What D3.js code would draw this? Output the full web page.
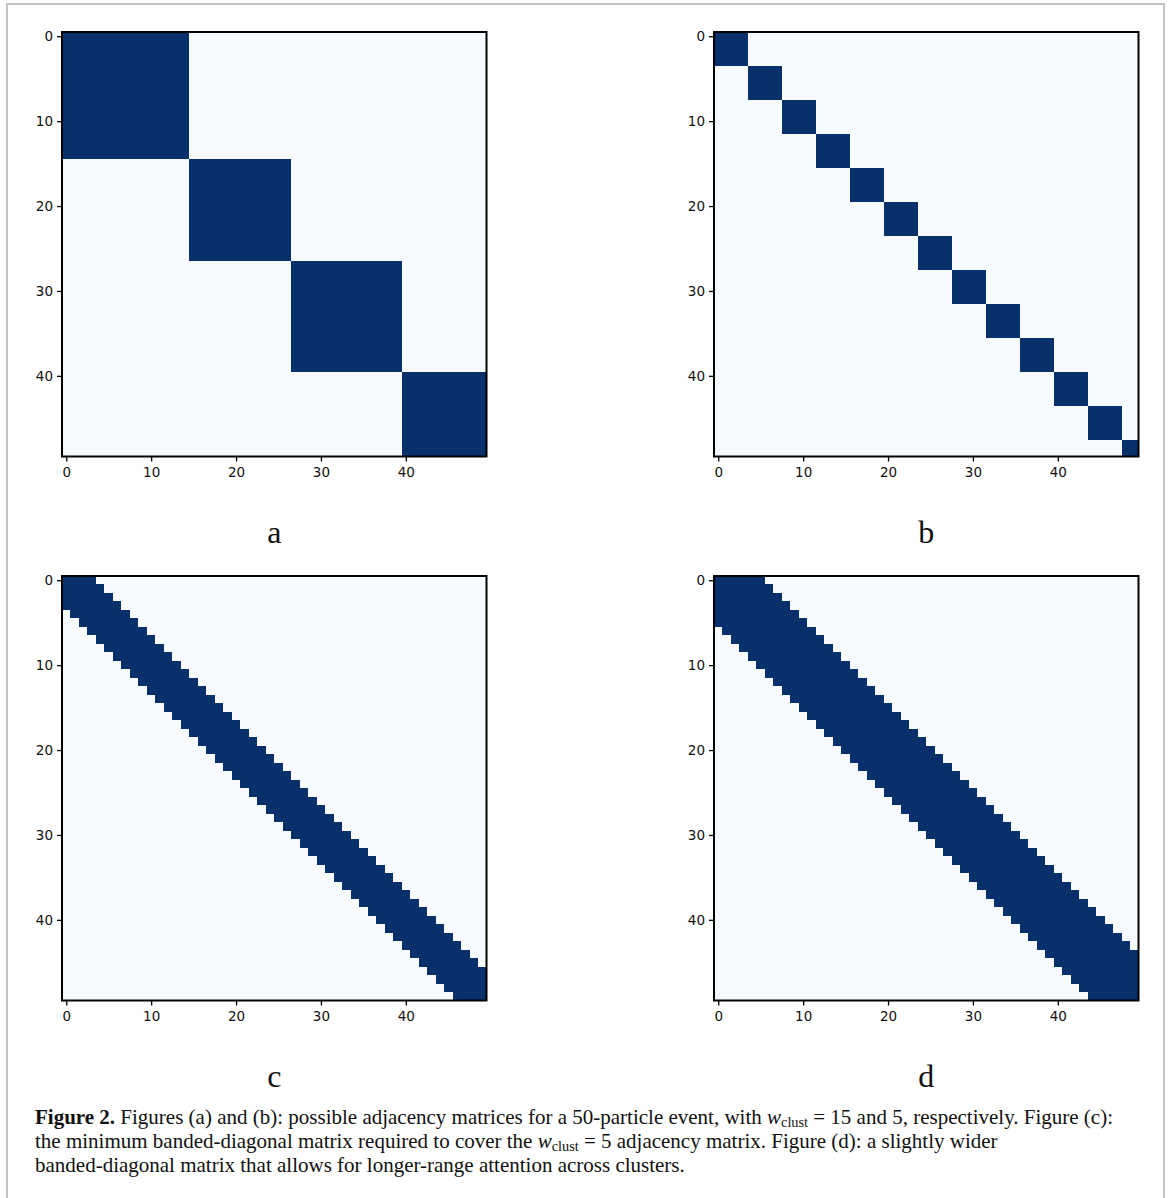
<!DOCTYPE html>
<html>
<head>
<meta charset="utf-8">
<script src="https://cdn.jsdelivr.net/npm/d3@7"></script>
<style>
  body { margin: 0; background: #fff; }
  svg { display: block; }
  .sub-label { font-family: "Liberation Serif", "DejaVu Serif", serif; font-size: 32px; fill: #111; }
  .caption { font-family: "Liberation Serif", "DejaVu Serif", serif; fill: #111; }
</style>
</head>
<body>
<div id="chart"></div>
<script>
// ── Data ────────────────────────────────────────────────────────────────────
// 50-particle event, adjacency read off the picture as block / band sizes
const N = 50;
const blocksA = [15, 12, 13, 10];                              // w_clust = 15
const blocksB = [4, 4, 4, 4, 4, 4, 4, 4, 4, 4, 4, 4, 2];       // w_clust = 5
const bandC = 3;   // |i - j| <= 3
const bandD = 5;   // |i - j| <= 5
const tickVals = [0, 10, 20, 30, 40];
const panelLabels = ['a', 'b', 'c', 'd'];

const captionLines = [
  [{ t: 'Figure 2.', b: true }, { t: ' Figures (a) and (b): possible adjacency matrices for a 50-particle event, with ' },
   { t: 'w', i: true }, { t: 'clust', sub: true }, { t: ' = 15 and 5, respectively. Figure (c):' }],
  [{ t: 'the minimum banded-diagonal matrix required to cover the ' }, { t: 'w', i: true }, { t: 'clust', sub: true },
   { t: ' = 5 adjacency matrix. Figure (d): a slightly wider' }],
  [{ t: 'banded-diagonal matrix that allows for longer-range attention across clusters.' }]
];

// ── Build matrices ──────────────────────────────────────────────────────────
function blockMatrix(sizes) {
  const id = [];
  sizes.forEach((s, k) => { for (let n = 0; n < s; n++) id.push(k); });
  return d3.range(N).map(i => d3.range(N).map(j => id[i] === id[j] ? 1 : 0));
}
function bandMatrix(w) {
  return d3.range(N).map(i => d3.range(N).map(j => Math.abs(i - j) <= w ? 1 : 0));
}
const matrices = [blockMatrix(blocksA), blockMatrix(blocksB), bandMatrix(bandC), bandMatrix(bandD)];

// ── Layout ──────────────────────────────────────────────────────────────────
const W = 1176, H = 1198;
const size = 424.5;
const origins = [[62, 32], [714, 32], [62, 576], [714, 576]];

const svg = d3.select('#chart').append('svg').attr('width', W).attr('height', H);

// page frame
svg.append('rect')
  .attr('x', 7).attr('y', 4).attr('width', 1157).attr('height', 1230)
  .attr('fill', '#fff').attr('stroke', '#c4c4c4').attr('stroke-width', 2);

const color = d3.scaleOrdinal().domain([0, 1]).range(['#f7fbff', '#08306b']);
const band = d3.scaleBand().domain(d3.range(N)).range([0, size]);
const lin  = d3.scaleLinear().domain([-0.5, N - 0.5]).range([0, size]);

matrices.forEach((m, p) => {
  const [ox, oy] = origins[p];
  const g = svg.append('g').attr('transform', `translate(${ox},${oy})`);

  // ── Cells ───────────────────────────────────────────────
  const cells = [];
  m.forEach((row, i) => row.forEach((v, j) => cells.push({ i, j, v })));
  g.append('g').attr('shape-rendering', 'crispEdges')
    .selectAll('rect').data(cells).join('rect')
    .attr('x', d => band(d.j))
    .attr('y', d => band(d.i))
    .attr('width', band.bandwidth() + 0.5)
    .attr('height', band.bandwidth() + 0.5)
    .attr('fill', d => color(d.v));

  // ── Axes ────────────────────────────────────────────────
  const xAxis = g.append('g').attr('transform', `translate(0,${size})`)
    .call(d3.axisBottom(lin).tickValues(tickVals).tickSize(5).tickPadding(6).tickFormat(d3.format('d')));
  const yAxis = g.append('g')
    .call(d3.axisLeft(lin).tickValues(tickVals).tickSize(5).tickPadding(4).tickFormat(d3.format('d')));
  [xAxis, yAxis].forEach(ax => {
    ax.select('.domain').remove();
    ax.attr('font-family', '"DejaVu Sans", sans-serif').attr('font-size', 13.5);
    ax.selectAll('.tick line').attr('stroke', '#000').attr('stroke-width', 1.3);
    ax.selectAll('.tick text').attr('fill', '#111');
  });

  // spines
  g.append('rect')
    .attr('width', size).attr('height', size)
    .attr('fill', 'none').attr('stroke', '#000').attr('stroke-width', 2);

  // panel letter
  svg.append('text').attr('class', 'sub-label')
    .attr('x', ox + size / 2).attr('y', oy + 511)
    .attr('text-anchor', 'middle')
    .text(panelLabels[p]);
});

// ── Caption ─────────────────────────────────────────────────────────────────
const capFont = 21;
const cap = svg.append('text').attr('class', 'caption').attr('font-size', capFont);
captionLines.forEach((line, li) => {
  line.forEach((seg, si) => {
    const ts = cap.append('tspan').text(seg.t);
    if (si === 0) ts.attr('x', 35).attr('y', 1124 + li * 24);
    if (seg.b) ts.attr('font-weight', 'bold');
    if (seg.i) ts.attr('font-style', 'italic');
    if (seg.sub) ts.attr('font-size', capFont * 0.68).attr('dy', 3);
    else if (si > 0 && line[si - 1].sub) ts.attr('dy', -3);
  });
});
</script>
</body>
</html>
